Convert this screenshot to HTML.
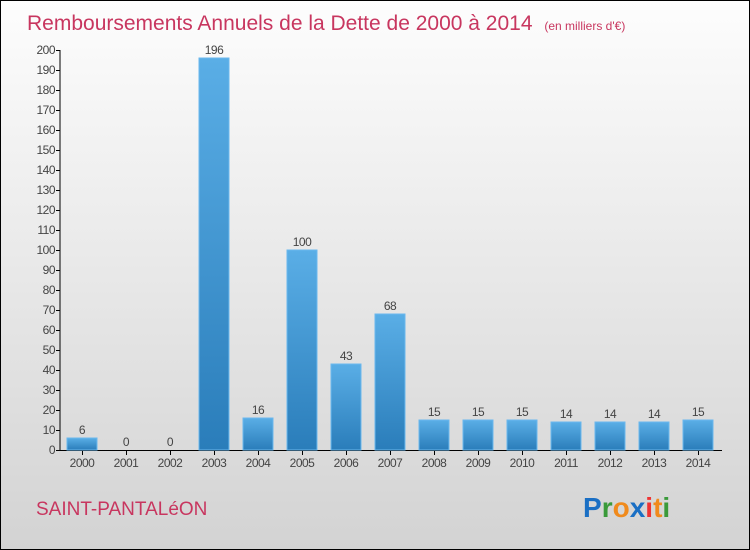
<!DOCTYPE html>
<html><head><meta charset="utf-8"><style>
html,body{margin:0;padding:0}
body{width:750px;height:550px;overflow:hidden;font-family:"Liberation Sans",sans-serif}
#wrap{position:relative;width:748px;height:548px;border:1px solid #000;background:linear-gradient(#fdfdfd,#d3d3d3)}
</style></head><body>
<div id="wrap">
<svg id="chart" width="748" height="548" style="position:absolute;left:0;top:0">
<defs><linearGradient id="bg" x1="0" y1="0" x2="0" y2="1"><stop offset="0" stop-color="#5aaee6"/><stop offset="1" stop-color="#2a7dba"/></linearGradient></defs>
<text x="26" y="29" font-size="21" fill="#c8365f">Remboursements Annuels de la Dette de 2000 à 2014 <tspan font-size="12" dx="6">(en milliers d'€)</tspan></text>
<g id="axes"></g><g id="bars"></g>
<text x="35" y="514" font-size="19" fill="#c8365f">SAINT-PANTALéON</text>
<text x="582" y="516" font-size="28" font-weight="bold"><tspan fill="#1a6fc4">P</tspan><tspan fill="#3a9a3a">r</tspan><tspan fill="#f08a1c">o</tspan><tspan fill="#1a6fc4">x</tspan><tspan fill="#e33">i</tspan><tspan fill="#f08a1c">t</tspan><tspan fill="#3a9a3a">i</tspan></text>
</svg>
</div>
<script>
const categories=["2000","2001","2002","2003","2004","2005","2006","2007","2008","2009","2010","2011","2012","2013","2014"];
const values=[6,0,0,196,16,100,43,68,15,15,15,14,14,14,15];
const ticks=[0,10,20,30,40,50,60,70,80,90,100,110,120,130,140,150,160,170,180,190,200];
const NS="http://www.w3.org/2000/svg";
const y=v=>449-v*2;
const x=i=>81+i*44;
function mk(tag,attrs,parent,txt){const e=document.createElementNS(NS,tag);for(const k in attrs)e.setAttribute(k,attrs[k]);if(txt!==undefined)e.textContent=txt;parent.appendChild(e);return e;}
const axes=document.getElementById('axes'),bars=document.getElementById('bars');
let l=mk('line',{x1:59,y1:y(200),x2:59,y2:450,stroke:'#000'},axes);


l=mk('line',{x1:59,y1:449.5,x2:721,y2:449.5,stroke:'#000'},axes);


ticks.forEach(t=>{
 mk('line',{x1:55,y1:y(t)+.5,x2:59,y2:y(t)+.5,stroke:'#000'},axes);
 const tx=mk('text',{x:54,y:y(t)+4,'font-size':12,fill:'#444','text-anchor':'end','letter-spacing':'-0.5'},axes,t);
 
 
});
categories.forEach((c,i)=>{
 mk('line',{x1:x(i)+.5,y1:450,x2:x(i)+.5,y2:454,stroke:'#000'},axes);
 const tx=mk('text',{x:x(i),y:466,'font-size':12,fill:'#444','text-anchor':'middle','letter-spacing':'-0.5'},axes,c);
 
 
 const v=values[i];
 if(v>0){
  const r=mk('rect',{x:x(i)-15,y:y(v),width:30,height:v*2,fill:'url(#bg)',stroke:'#6ab8ee','stroke-width':1},bars);
  
  
 }
 const lb=mk('text',{x:x(i),y:y(v)-4,'font-size':12,fill:'#444','text-anchor':'middle','letter-spacing':'-0.5'},bars,v);
 
 
});
</script>
</body></html>
